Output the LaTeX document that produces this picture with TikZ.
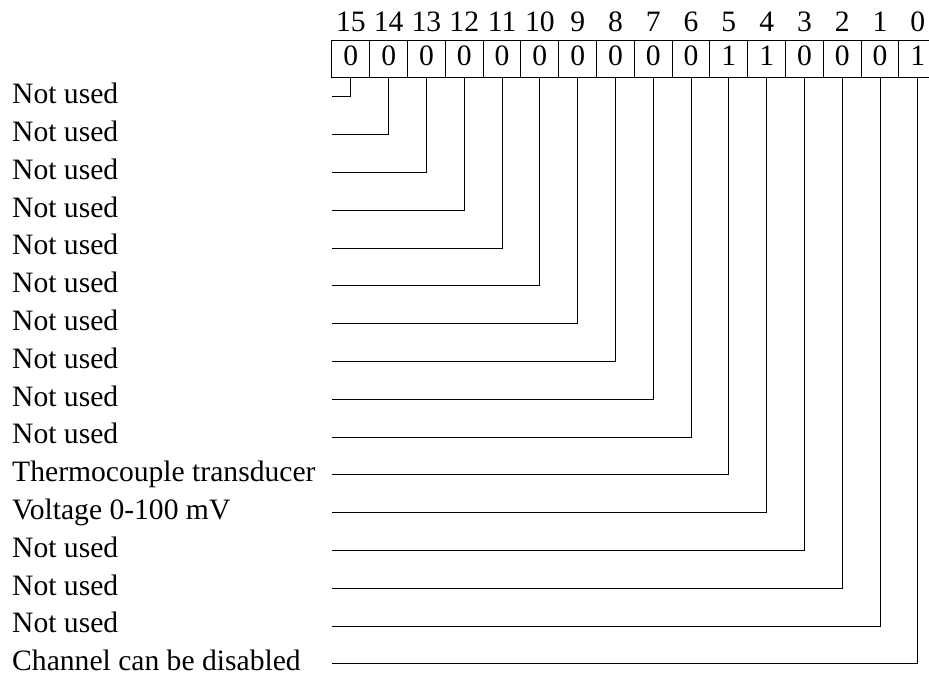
\documentclass[tikz,border=0pt]{standalone}
\usepackage{fontspec}
\setmainfont{Liberation Serif}
\usetikzlibrary{positioning}
\newcommand{\regfont}{\fontsize{14.8}{17}\selectfont}
\tikzset{
    bitcell/.style={draw, line width=0.5pt, minimum size=18.9pt, inner sep=0pt, text height=0.68em, text depth=0pt, font=\regfont},
    bitnum/.style={anchor=base, inner sep=0pt, font=\regfont},
    desc/.style={anchor=west, inner sep=0pt, text height=0.68em, text depth=0pt, font=\regfont},
    wire/.style={line width=0.5pt}
}

\begin{document}
\begin{tikzpicture}[x=18.9pt,y=18.9pt]
\useasboundingbox (-8.783,-15.926) rectangle (15.794,2.063);
% bit numbers
\node[bitnum] (n15) at ( 0.5,1.22) {15};
\node[bitnum] (n14) at ( 1.5,1.22) {14};
\node[bitnum] (n13) at ( 2.5,1.22) {13};
\node[bitnum] (n12) at ( 3.5,1.22) {12};
\node[bitnum] (n11) at ( 4.5,1.22) {11};
\node[bitnum] (n10) at ( 5.5,1.22) {10};
\node[bitnum] (n9)  at ( 6.5,1.22) {9};
\node[bitnum] (n8)  at ( 7.5,1.22) {8};
\node[bitnum] (n7)  at ( 8.5,1.22) {7};
\node[bitnum] (n6)  at ( 9.5,1.22) {6};
\node[bitnum] (n5)  at (10.5,1.22) {5};
\node[bitnum] (n4)  at (11.5,1.22) {4};
\node[bitnum] (n3)  at (12.5,1.22) {3};
\node[bitnum] (n2)  at (13.5,1.22) {2};
\node[bitnum] (n1)  at (14.5,1.22) {1};
\node[bitnum] (n0)  at (15.5,1.22) {0};
% register contents
\node[bitcell] (c15) at ( 0.5,0.5) {0};
\node[bitcell] (c14) at ( 1.5,0.5) {0};
\node[bitcell] (c13) at ( 2.5,0.5) {0};
\node[bitcell] (c12) at ( 3.5,0.5) {0};
\node[bitcell] (c11) at ( 4.5,0.5) {0};
\node[bitcell] (c10) at ( 5.5,0.5) {0};
\node[bitcell] (c9)  at ( 6.5,0.5) {0};
\node[bitcell] (c8)  at ( 7.5,0.5) {0};
\node[bitcell] (c7)  at ( 8.5,0.5) {0};
\node[bitcell] (c6)  at ( 9.5,0.5) {0};
\node[bitcell] (c5)  at (10.5,0.5) {1};
\node[bitcell] (c4)  at (11.5,0.5) {1};
\node[bitcell] (c3)  at (12.5,0.5) {0};
\node[bitcell] (c2)  at (13.5,0.5) {0};
\node[bitcell] (c1)  at (14.5,0.5) {0};
\node[bitcell] (c0)  at (15.5,0.5) {1};
% descriptions
\node[desc] (d15) at (-8.47, -0.5) {Not used};
\node[desc] (d14) at (-8.47, -1.5) {Not used};
\node[desc] (d13) at (-8.47, -2.5) {Not used};
\node[desc] (d12) at (-8.47, -3.5) {Not used};
\node[desc] (d11) at (-8.47, -4.5) {Not used};
\node[desc] (d10) at (-8.47, -5.5) {Not used};
\node[desc] (d9)  at (-8.47, -6.5) {Not used};
\node[desc] (d8)  at (-8.47, -7.5) {Not used};
\node[desc] (d7)  at (-8.47, -8.5) {Not used};
\node[desc] (d6)  at (-8.47, -9.5) {Not used};
\node[desc] (d5)  at (-8.47,-10.5) {Thermocouple transducer};
\node[desc] (d4)  at (-8.47,-11.5) {Voltage 0-100 mV};
\node[desc] (d3)  at (-8.47,-12.5) {Not used};
\node[desc] (d2)  at (-8.47,-13.5) {Not used};
\node[desc] (d1)  at (-8.47,-14.5) {Not used};
\node[desc] (d0)  at (-8.47,-15.5) {Channel can be disabled};
% line ends next to the descriptions
\coordinate (e15) at (0, -0.5);
\coordinate (e14) at (0, -1.5);
\coordinate (e13) at (0, -2.5);
\coordinate (e12) at (0, -3.5);
\coordinate (e11) at (0, -4.5);
\coordinate (e10) at (0, -5.5);
\coordinate (e9)  at (0, -6.5);
\coordinate (e8)  at (0, -7.5);
\coordinate (e7)  at (0, -8.5);
\coordinate (e6)  at (0, -9.5);
\coordinate (e5)  at (0,-10.5);
\coordinate (e4)  at (0,-11.5);
\coordinate (e3)  at (0,-12.5);
\coordinate (e2)  at (0,-13.5);
\coordinate (e1)  at (0,-14.5);
\coordinate (e0)  at (0,-15.5);
\draw[wire] (c15.south) |- (e15);
\draw[wire] (c14.south) |- (e14);
\draw[wire] (c13.south) |- (e13);
\draw[wire] (c12.south) |- (e12);
\draw[wire] (c11.south) |- (e11);
\draw[wire] (c10.south) |- (e10);
\draw[wire] (c9.south)  |- (e9);
\draw[wire] (c8.south)  |- (e8);
\draw[wire] (c7.south)  |- (e7);
\draw[wire] (c6.south)  |- (e6);
\draw[wire] (c5.south)  |- (e5);
\draw[wire] (c4.south)  |- (e4);
\draw[wire] (c3.south)  |- (e3);
\draw[wire] (c2.south)  |- (e2);
\draw[wire] (c1.south)  |- (e1);
\draw[wire] (c0.south)  |- (e0);
\end{tikzpicture}
\end{document}
